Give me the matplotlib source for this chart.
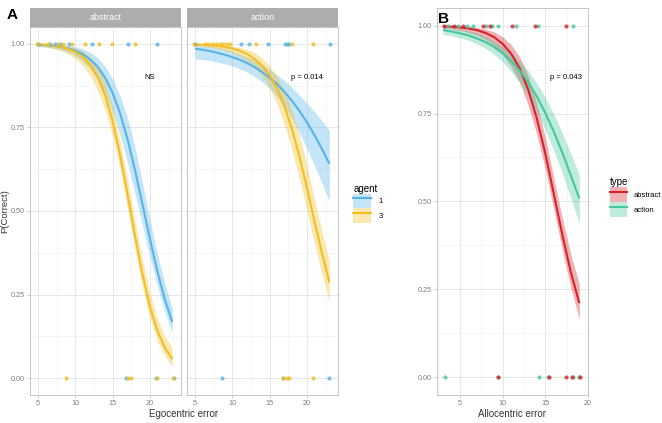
import matplotlib.pyplot as plt
from matplotlib.patches import Patch
from matplotlib.lines import Line2D

plt.rcParams['font.family'] = ['Liberation Sans', 'DejaVu Sans']

# ---------------- panel A : logistic fits ----------------
ego_x = [5, 6, 7, 8, 9, 10, 11, 12, 13, 14, 15, 16, 17, 18, 19, 20, 21, 22, 23]

# abstract facet
abs1_fit = [.997, .996, .994, .991, .986, .979, .969, .953, .931, .898, .853, .792, .715, .622, .520, .416, .319, .235, .168]
abs1_lo = [.991, .990, .987, .982, .975, .964, .948, .926, .895, .853, .797, .727, .644, .552, .457, .363, .275, .198, .136]
abs1_hi = [.999, .999, .998, .997, .995, .991, .985, .974, .958, .932, .895, .845, .779, .690, .584, .474, .371, .282, .209]
abs3_fit = [.998, .997, .994, .991, .985, .976, .961, .937, .900, .846, .769, .668, .550, .426, .310, .214, .142, .091, .057]
abs3_lo = [.993, .990, .986, .980, .970, .956, .935, .904, .860, .800, .724, .624, .505, .383, .270, .178, .110, .066, .036]
abs3_hi = [.9995, .999, .998, .996, .993, .987, .978, .961, .932, .885, .810, .710, .595, .470, .354, .255, .180, .125, .090]

# action facet
act1_fit = [.985, .982, .978, .973, .967, .960, .952, .942, .930, .915, .898, .879, .856, .829, .799, .765, .727, .686, .641]
act1_lo = [.955, .952, .950, .945, .940, .933, .925, .915, .902, .886, .866, .842, .812, .775, .733, .686, .636, .584, .530]
act1_hi = [.995, .994, .993, .990, .985, .978, .970, .960, .950, .938, .923, .907, .890, .869, .846, .822, .797, .770, .740]
act3_fit = [.998, .997, .9955, .9935, .990, .986, .979, .969, .954, .934, .905, .865, .812, .744, .662, .569, .470, .375, .287]
act3_lo = [.994, .992, .989, .985, .979, .972, .962, .948, .929, .903, .867, .819, .757, .681, .594, .500, .403, .312, .230]
act3_hi = [.9995, .999, .998, .997, .995, .993, .989, .983, .973, .957, .934, .902, .857, .800, .727, .636, .537, .440, .350]

# raw trials (error, correct)
abs1_ok = [5.0, 6.6, 7.3, 8.0, 9.1, 12.2, 17.1, 20.9]
abs3_ok = [4.9, 6.4, 7.7, 8.4, 9.5, 11.3, 13.2, 14.9, 18.0]
abs1_bad = [16.8, 20.8, 23.2]
abs3_bad = [8.7, 17.1, 17.4, 20.9, 23.1]
act1_ok = [5.0, 11.2, 12.2, 14.8, 17.0, 17.3, 17.6, 23.1]
act3_ok = [4.9, 6.3, 6.8, 7.3, 7.8, 8.3, 8.8, 9.3, 9.7, 13.2, 18.0, 20.8]
act1_bad = [8.6, 16.8, 23.0]
act3_bad = [16.8, 17.3, 17.6, 20.8]

# ---------------- panel B ----------------
allo_x = [3, 4, 5, 6, 7, 8, 9, 10, 11, 12, 13, 14, 15, 16, 17, 18, 19]
b_abs_fit = [.998, .9968, .9948, .9918, .987, .979, .967, .948, .920, .878, .818, .737, .637, .522, .406, .299, .211]
b_abs_lo = [.993, .990, .986, .980, .972, .960, .943, .918, .884, .837, .773, .691, .592, .478, .362, .255, .165]
b_abs_hi = [.9995, .999, .998, .997, .994, .990, .982, .968, .946, .911, .857, .780, .683, .567, .453, .350, .265]
b_act_fit = [.987, .983, .978, .972, .963, .953, .939, .921, .899, .872, .839, .799, .752, .699, .639, .574, .508]
b_act_lo = [.975, .971, .965, .958, .948, .935, .918, .897, .870, .838, .800, .756, .704, .645, .580, .510, .437]
b_act_hi = [.994, .992, .989, .985, .979, .970, .957, .940, .921, .899, .871, .836, .796, .748, .695, .636, .576]

b_abs_ok = [3.1, 4.3, 5.4, 7.7, 8.5, 11.1, 13.8, 17.4]
b_act_ok = [3.6, 4.8, 5.8, 6.5, 8.1, 8.8, 9.45, 11.6, 14.1, 18.25]
b_abs_bad = [9.4, 15.4, 17.4, 18.1, 19.1]
b_act_bad = [3.2, 9.5, 14.3, 15.3, 18.2, 19.0]

c_blue = '#56B4E9'
c_yel = '#F2BE22'
c_red = '#D7222A'
c_grn = '#45C89B'
grey_txt = '#7F7F7F'


def style_ax(ax, xlim, minor_x):
    ax.set_xlim(xlim)
    ax.set_ylim(-0.05, 1.05)
    ax.set_xticks([5, 10, 15, 20])
    ax.set_xticks(minor_x, minor=True)
    ax.set_yticks([0, 0.25, 0.5, 0.75, 1.0])
    ax.set_yticks([0.125, 0.375, 0.625, 0.875], minor=True)
    ax.grid(which='major', color='#E3E3E3', lw=0.6)
    ax.grid(which='minor', color='#F0F0F0', lw=0.4)
    ax.set_axisbelow(True)
    for s in ax.spines.values():
        s.set_color('#BDBDBD')
        s.set_linewidth(0.6)
    ax.tick_params(which='major', length=2.5, width=0.5, color='#BDBDBD',
                   labelsize=5.2, labelcolor=grey_txt, pad=1.2)
    ax.tick_params(which='minor', length=0)


def draw_fit(ax, x, lo, hi, fit, col):
    ax.fill_between(x, lo, hi, color=col, alpha=0.35, lw=0)
    ax.plot(x, fit, color=col, lw=1.5, solid_capstyle='butt')


def draw_pts(ax, ok, bad, col):
    ax.scatter(ok, [1] * len(ok), s=9, color=col, alpha=0.8, lw=0, zorder=3)
    ax.scatter(bad, [0] * len(bad), s=9, color=col, alpha=0.8, lw=0, zorder=3)


fig = plt.figure(figsize=(6.62, 4.23), dpi=100)

# --- A, abstract facet
ax1 = fig.add_axes([0.0453, 0.0662, 0.228, 0.870])
style_ax(ax1, (3.93, 24.15), [7.5, 12.5, 17.5, 22.5])
draw_fit(ax1, ego_x, abs1_lo, abs1_hi, abs1_fit, c_blue)
draw_fit(ax1, ego_x, abs3_lo, abs3_hi, abs3_fit, c_yel)
draw_pts(ax1, abs1_ok, abs1_bad, c_blue)
draw_pts(ax1, abs3_ok, abs3_bad, c_yel)
ax1.text(19.9, 0.898, 'NS', fontsize=5.5, ha='center', va='center')
ax1.set_yticklabels(['0.00', '0.25', '0.50', '0.75', '1.00'])
fig.text(0.007, 0.5, 'P(Correct)', fontsize=6.8, color='#333333', rotation=90,
         ha='center', va='center')

# --- A, action facet
ax2 = fig.add_axes([0.2825, 0.0662, 0.228, 0.870])
style_ax(ax2, (3.93, 24.15), [7.5, 12.5, 17.5, 22.5])
draw_fit(ax2, ego_x, act1_lo, act1_hi, act1_fit, c_blue)
draw_fit(ax2, ego_x, act3_lo, act3_hi, act3_fit, c_yel)
draw_pts(ax2, act1_ok, act1_bad, c_blue)
draw_pts(ax2, act3_ok, act3_bad, c_yel)
ax2.text(20.06, 0.898, 'p = 0.014', fontsize=5.5, ha='center', va='center')
ax2.tick_params(axis='y', which='major', length=0, labelleft=False)

# strips
for left, lab in [(0.0453, 'abstract'), (0.2825, 'action')]:
    st = fig.add_axes([left, 0.936, 0.228, 0.045])
    st.set_facecolor('#ADADAD')
    st.set_xticks([])
    st.set_yticks([])
    for s in st.spines.values():
        s.set_visible(False)
    st.text(0.5, 0.5, lab, color='white', fontsize=6.5, ha='center', va='center',
            transform=st.transAxes)

fig.text(0.2777, 0.021, 'Egocentric error', fontsize=7, color='#333333',
         ha='center', va='center')

leg_a = fig.legend(
    handles=[(Patch(facecolor=c_blue, alpha=0.35, lw=0), Line2D([], [], color=c_blue, lw=1.5)),
             (Patch(facecolor=c_yel, alpha=0.35, lw=0), Line2D([], [], color=c_yel, lw=1.5))],
    labels=['1', '3'], title='agent', loc='upper left', bbox_to_anchor=(0.528, 0.575),
    frameon=False, fontsize=5.5, title_fontsize=7, handlelength=2.3, handleheight=2.6,
    labelspacing=0.0, borderpad=0, handletextpad=1.0)
leg_a._legend_box.align = 'left'

# --- B
ax3 = fig.add_axes([0.660, 0.0662, 0.228, 0.915])
style_ax(ax3, (2.29, 19.95), [2.5, 7.5, 12.5, 17.5])
draw_fit(ax3, allo_x, b_abs_lo, b_abs_hi, b_abs_fit, c_red)
draw_fit(ax3, allo_x, b_act_lo, b_act_hi, b_act_fit, c_grn)
draw_pts(ax3, b_act_ok, b_act_bad, c_grn)
draw_pts(ax3, b_abs_ok, b_abs_bad, c_red)
ax3.text(17.47, 0.853, 'p = 0.043', fontsize=5.5, ha='center', va='center')
ax3.set_yticklabels(['0.00', '0.25', '0.50', '0.75', '1.00'])
fig.text(0.774, 0.021, 'Allocentric error', fontsize=7, color='#333333',
         ha='center', va='center')

leg_b = fig.legend(
    handles=[(Patch(facecolor=c_red, alpha=0.35, lw=0), Line2D([], [], color=c_red, lw=1.5)),
             (Patch(facecolor=c_grn, alpha=0.35, lw=0), Line2D([], [], color=c_grn, lw=1.5))],
    labels=['abstract', 'action'], title='type', loc='upper left', bbox_to_anchor=(0.915, 0.59),
    frameon=False, fontsize=5.5, title_fontsize=7, handlelength=2.3, handleheight=2.6,
    labelspacing=0.0, borderpad=0, handletextpad=0.8)
leg_b._legend_box.align = 'left'

fig.text(0.010, 0.955, 'A', fontsize=11, fontweight='bold')
fig.text(0.662, 0.945, 'B', fontsize=11, fontweight='bold')

fig.savefig('out.png', dpi=100)
